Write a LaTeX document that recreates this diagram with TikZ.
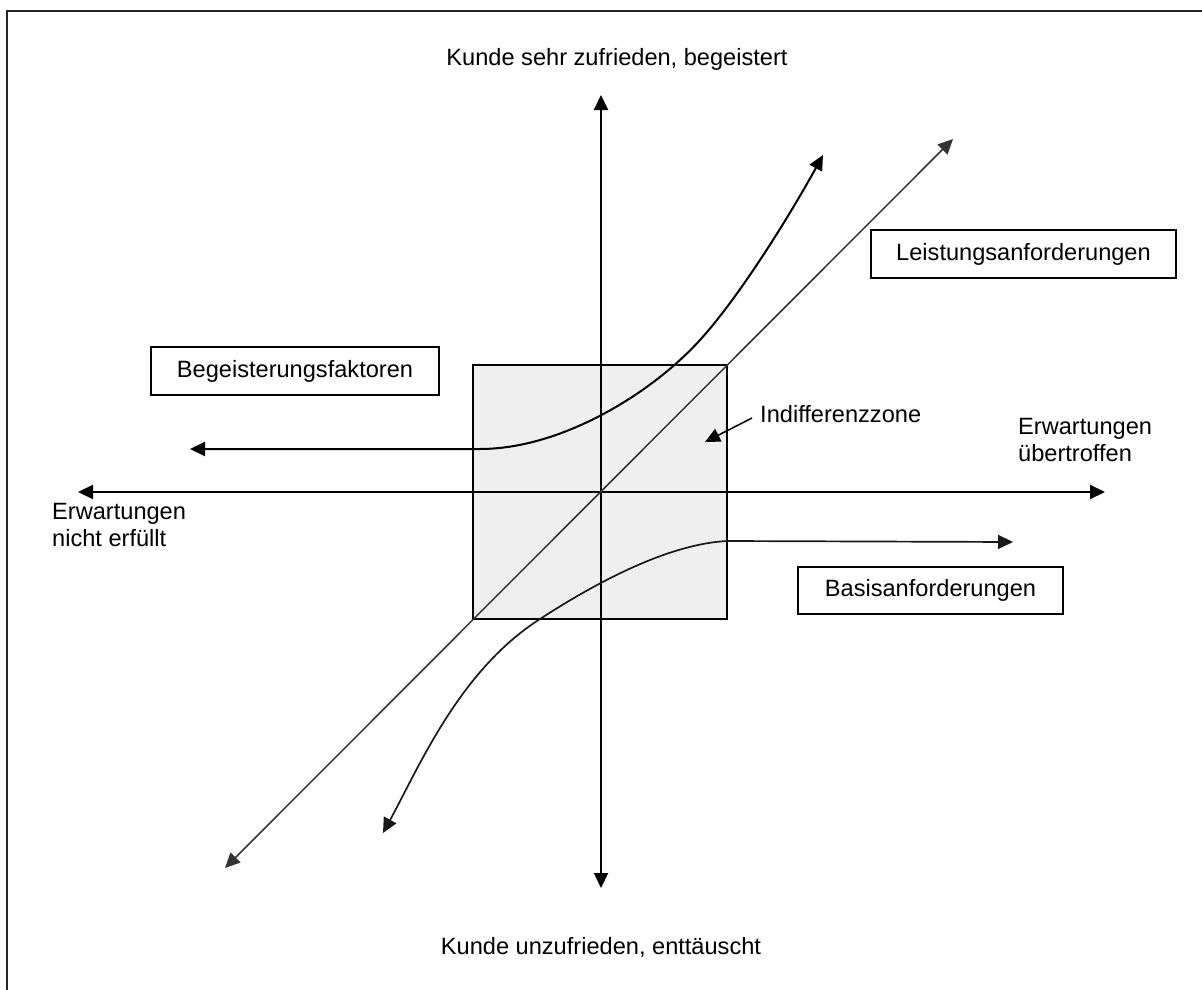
\documentclass[tikz,border=0pt]{standalone}
\usepackage{fontspec}
\setmainfont{Liberation Sans}
\usetikzlibrary{arrows.meta}
\definecolor{zonefill}{HTML}{EFEFEF}
\definecolor{thinline}{HTML}{333333}
\begin{document}
\begin{tikzpicture}[x=1pt,y=-1pt,
  head/.style={Triangle[length=15pt,width=14pt]},
  onetip/.style={-{Triangle[length=15pt,width=14pt]}},
  twotip/.style={{Triangle[length=15pt,width=14pt]}-{Triangle[length=15pt,width=14pt]}},
  txt/.style={font=\fontsize{23.6}{27}\selectfont, inner sep=0pt},
  tagbox/.style={draw, line width=1.5pt, font=\fontsize{23.6}{27}\selectfont,
    minimum height=48pt, inner sep=0pt},
  axis/.style={line width=2pt, twotip},
]
\useasboundingbox (0,0) rectangle (1202,990);

% outer frame (top and left edges)
\draw[line width=2pt, black!85] (1202,11.5) -- (7,11.5) -- (7,990);

% indifference zone
\node[draw, line width=1.5pt, fill=zonefill, minimum width=254pt, minimum height=254pt,
  inner sep=0pt] (zone) at (600,492) {};

% axes
\coordinate (xl) at (78,492);
\coordinate (xr) at (1105,492);
\coordinate (yt) at (601,95);
\coordinate (yb) at (601,888);
\draw[axis] (xl) -- (xr);
\draw[axis] (yb) -- (yt);

% performance requirements: straight diagonal
\coordinate (dl) at (225,868);
\coordinate (dr) at (953,139);
\draw[line width=1.5pt, thinline, twotip] (dl) -- (dr);

% excitement factors
\coordinate (el) at (190,449);
\coordinate (er) at (823,155);
\draw[line width=2pt, twotip] (el) -- (480,449)
  .. controls (560,449) and (650,395) .. (700,340)
  .. controls (740,296) and (790,215) .. (er);

% basic requirements
\coordinate (bl) at (383,833);
\coordinate (br) at (1013,542);
\draw[line width=1.7pt, black!90, twotip] (bl)
  .. controls (420,765) and (460,670) .. (540,619)
  .. controls (600,580) and (670,544) .. (727,541) -- (br);

% labels
\node[txt, anchor=base] (top) at (617,66) {Kunde sehr zufrieden, begeistert};
\node[txt, anchor=base] (bottom) at (601,954) {Kunde unzufrieden, enttäuscht};
\node[txt, anchor=north west, align=left] (neg) at (52,503) {Erwartungen\\nicht erfüllt};
\node[txt, anchor=north west, align=left] (pos) at (1018,418) {Erwartungen\\übertroffen};

\node[txt, anchor=base west] (idz) at (760,422) {Indifferenzzone};
\coordinate (idzstart) at (752,418);
\coordinate (idzend) at (705,442);
\draw[line width=1.5pt, onetip] (idzstart) -- (idzend);

% category boxes
\node[tagbox, minimum width=288pt] (excite) at (295,371) {Begeisterungsfaktoren};
\node[tagbox, minimum width=305pt] (perform) at (1023.5,254) {Leistungsanforderungen};
\node[tagbox, minimum width=265pt, minimum height=47pt] (basic) at (930.5,590.5) {Basisanforderungen};
\end{tikzpicture}
\end{document}
